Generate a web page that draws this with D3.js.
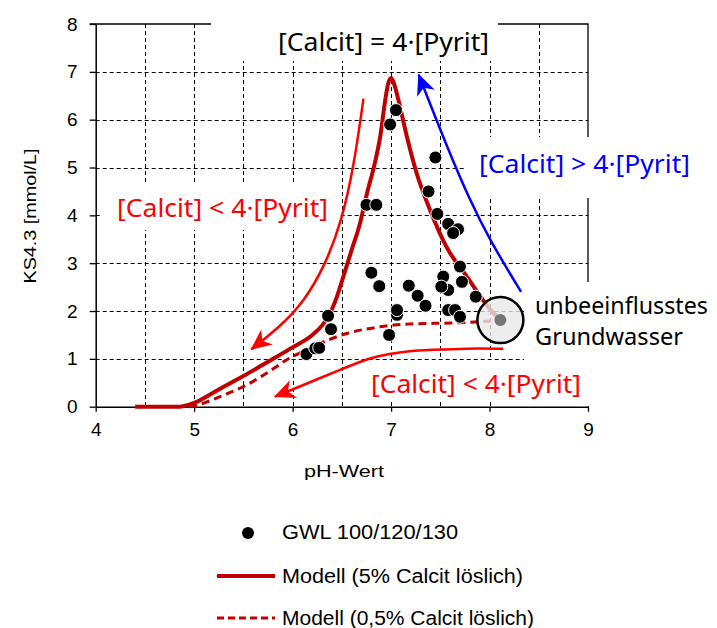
<!DOCTYPE html>
<html>
<head>
<meta charset="utf-8">
<script src="https://cdn.jsdelivr.net/npm/d3@7"></script>
<style>
body { margin: 0; background: #fff; }
svg { display: block; }
</style>
</head>
<body>
<svg id="chart" width="717" height="628"></svg>
<script>
// measured points, GWL 100/120/130
var gwlPH = [7.05, 6.99, 7.45, 7.38, 7.47, 7.58, 7.68, 7.63, 7.70, 6.75, 6.85, 6.80, 6.88,
             6.36, 6.39, 6.14, 6.23, 6.27, 6.98, 7.06, 7.06, 7.18, 7.27, 7.35,
             7.53, 7.72, 7.58, 7.51, 7.86, 7.58, 7.65, 7.70]
var gwlKS = [6.20, 5.90, 5.21, 4.50, 4.03, 3.82, 3.71, 3.63, 2.93, 4.22, 4.22, 2.80, 2.52,
             1.90, 1.62, 1.10, 1.22, 1.23, 1.50, 1.92, 2.02, 2.53, 2.32, 2.11,
             2.72, 2.61, 2.44, 2.51, 2.30, 2.02, 2.02, 1.88]

// Modell (5% Calcit löslich)
var model5PH = [4.4, 4.85, 5.0, 5.25, 5.5, 5.75, 6.0, 6.2, 6.3, 6.38, 6.45, 6.52, 6.6, 6.68, 6.76,
                6.83, 6.89, 6.94, 6.97, 7.0, 7.03, 7.07, 7.16, 7.26, 7.41, 7.56, 7.77, 8.0, 8.11]
var model5KS = [0, 0, 0.08, 0.36, 0.64, 0.94, 1.24, 1.5, 1.7, 1.95, 2.3, 2.75, 3.28, 3.8, 4.5,
                5.05, 5.65, 6.4, 6.75, 6.87, 6.75, 6.45, 5.65, 4.88, 4.04, 3.35, 2.72, 2.05, 1.81]

// Modell (0,5% Calcit löslich)
var model05PH = [4.95, 5.03, 5.13, 5.25, 5.5, 5.75, 5.94, 6.14, 6.38, 6.55, 6.89, 7.19, 7.6, 7.93, 8.11]
var model05KS = [0, 0.03, 0.1, 0.2, 0.42, 0.72, 0.98, 1.19, 1.41, 1.53, 1.67, 1.73, 1.75, 1.78, 1.81]

// annotation arrows (pH, KS)
var arrowUpPH = [6.72, 6.62, 6.5, 6.34, 6.12, 5.86, 5.58]
var arrowUpKS = [6.44, 5.0, 3.9, 3.0, 2.2, 1.65, 1.20]
var arrowLowPH = [8.14, 7.77, 7.43, 7.09, 6.85, 6.68, 6.48, 6.07, 5.82]
var arrowLowKS = [1.21, 1.22, 1.19, 1.15, 1.05, 0.94, 0.77, 0.42, 0.21]
var arrowBluePH = [8.32, 8.0, 7.80, 7.58, 7.28]
var arrowBlueKS = [2.40, 3.49, 4.32, 5.37, 6.94]

var groundwater = [8.11, 1.81]

var xTicks = [4, 5, 6, 7, 8, 9]
var yTicks = [0, 1, 2, 3, 4, 5, 6, 7, 8]
var xGrid = [4.5, 5, 5.5, 6, 6.5, 7, 7.5, 8, 8.5]
var yGrid = [1, 2, 3, 4, 5, 6, 7]

var legendLabels = ["GWL 100/120/130", "Modell (5% Calcit löslich)", "Modell (0,5% Calcit löslich)"]

var svg = d3.select("#chart")
var arial = "'Liberation Sans', Arial, sans-serif"
var tahoma = "'Noto Sans', 'DejaVu Sans', sans-serif"

var x = d3.scaleLinear().domain([4, 9]).range([95.7, 588])
var y = d3.scaleLinear().domain([0, 8]).range([406.7, 24])

function zip(a, b) { return a.map(function (d, i) { return [d, b[i]] }) }

var modelLine = d3.line()
    .x(function (d) { return x(d[0]) })
    .y(function (d) { return y(d[1]) })
    .curve(d3.curveMonotoneX)
var arrowLine = d3.line()
    .x(function (d) { return x(d[0]) })
    .y(function (d) { return y(d[1]) })
    .curve(d3.curveBasis)

// markers for arrow heads
var defs = svg.append("defs")
function marker(id, color) {
    defs.append("marker")
        .attr("id", id)
        .attr("viewBox", "-22 -11 24 22")
        .attr("markerWidth", 24).attr("markerHeight", 22)
        .attr("refX", 0).attr("refY", 0)
        .attr("markerUnits", "userSpaceOnUse")
        .attr("orient", "auto")
        .append("path")
        .attr("d", "M1,0 L-20,-9.5 L-14,0 L-20,9.5 Z")
        .attr("fill", color)
}
marker("headRed", "#ff0000")
marker("headBlue", "#0000ff")

// grid
var grid = svg.append("g").attr("stroke", "#000").attr("stroke-width", 1).attr("stroke-dasharray", "4,3")
grid.selectAll("line.v").data(xGrid).enter().append("line")
    .attr("x1", function (d) { return Math.round(x(d)) + 0.5 }).attr("x2", function (d) { return Math.round(x(d)) + 0.5 })
    .attr("y1", y(8)).attr("y2", y(0))
grid.selectAll("line.h").data(yGrid).enter().append("line")
    .attr("y1", function (d) { return Math.round(y(d)) + 0.5 }).attr("y2", function (d) { return Math.round(y(d)) + 0.5 })
    .attr("x1", x(4)).attr("x2", x(9))

// frame top / right
svg.append("path")
    .attr("d", "M" + (x(4) - 6) + "," + y(8) + "H" + x(9) + "V" + y(0))
    .attr("fill", "none").attr("stroke", "#000").attr("stroke-width", 1.3)

// white label boxes
var boxes = [[211, 0, 287, 61], [465, 137, 252, 61], [100, 183, 238, 47], [362, 360, 230, 41], [524, 282, 193, 124]]
svg.selectAll("rect.box").data(boxes).enter().append("rect")
    .attr("x", function (d) { return d[0] }).attr("y", function (d) { return d[1] })
    .attr("width", function (d) { return d[2] }).attr("height", function (d) { return d[3] })
    .attr("fill", "#fff")

// axes
svg.append("g")
    .attr("transform", "translate(" + x(4) + ",0)")
    .call(d3.axisLeft(y).tickValues(yTicks).tickSize(6).tickSizeOuter(0).tickPadding(12).tickFormat(d3.format("d")))
svg.append("g")
    .attr("transform", "translate(0," + y(0) + ")")
    .call(d3.axisBottom(x).tickValues(xTicks).tickSize(5).tickSizeOuter(0).tickPadding(11).tickFormat(d3.format("d")))
svg.selectAll(".domain").attr("stroke", "#000").attr("stroke-width", 1.5)
svg.selectAll(".tick line").attr("stroke", "#000").attr("stroke-width", 1.3)
svg.selectAll(".tick text").attr("font-family", arial).attr("font-size", 19).attr("fill", "#000")

svg.append("text")
    .attr("transform", "translate(36,216) rotate(-90)")
    .attr("text-anchor", "middle")
    .attr("font-family", arial).attr("font-size", 16)
    .attr("textLength", 135).attr("lengthAdjust", "spacingAndGlyphs")
    .text("KS4.3 [mmol/L]")
svg.append("text")
    .attr("x", 344).attr("y", 477)
    .attr("text-anchor", "middle")
    .attr("font-family", arial).attr("font-size", 17)
    .attr("textLength", 80).attr("lengthAdjust", "spacingAndGlyphs")
    .text("pH-Wert")

// annotation texts
var notes = [
    { t: "[Calcit] = 4·[Pyrit]", x: 278, y: 51, w: 211, c: "#000", s: 25 },
    { t: "[Calcit] > 4·[Pyrit]", x: 479, y: 173, w: 211, c: "#0000ff", s: 25 },
    { t: "[Calcit] < 4·[Pyrit]", x: 117, y: 217, w: 211, c: "#ff0000", s: 25 },
    { t: "[Calcit] < 4·[Pyrit]", x: 371, y: 393, w: 210, c: "#ff0000", s: 25 },
    { t: "unbeeinflusstes", x: 535, y: 314, w: 173, c: "#000", s: 23.5 },
    { t: "Grundwasser", x: 535, y: 345, w: 148, c: "#000", s: 23.5 }
]
svg.selectAll("text.note").data(notes).enter().append("text")
    .attr("class", "note")
    .attr("x", function (d) { return d.x }).attr("y", function (d) { return d.y })
    .attr("fill", function (d) { return d.c })
    .attr("font-family", tahoma).attr("font-size", function (d) { return d.s })
    .attr("textLength", function (d) { return d.w }).attr("lengthAdjust", "spacingAndGlyphs")
    .text(function (d) { return d.t })

// model curves
svg.append("path").datum(zip(model05PH, model05KS))
    .attr("d", modelLine).attr("fill", "none")
    .attr("stroke", "#c00000").attr("stroke-width", 3).attr("stroke-dasharray", "8,5")
svg.append("path").datum(zip(model5PH, model5KS))
    .attr("d", modelLine).attr("fill", "none")
    .attr("stroke", "#c00000").attr("stroke-width", 4)

// arrows
svg.append("path").datum(zip(arrowUpPH, arrowUpKS))
    .attr("d", arrowLine).attr("fill", "none").attr("stroke", "#ff0000").attr("stroke-width", 2.5)
    .attr("marker-end", "url(#headRed)")
svg.append("path").datum(zip(arrowLowPH, arrowLowKS))
    .attr("d", arrowLine).attr("fill", "none").attr("stroke", "#ff0000").attr("stroke-width", 2.5)
    .attr("marker-end", "url(#headRed)")
svg.append("path").datum(zip(arrowBluePH, arrowBlueKS))
    .attr("d", arrowLine).attr("fill", "none").attr("stroke", "#0000ff").attr("stroke-width", 2.5)
    .attr("marker-end", "url(#headBlue)")

// points
svg.selectAll("circle.dot").data(zip(gwlPH, gwlKS)).enter().append("circle")
    .attr("class", "dot")
    .attr("cx", function (d) { return x(d[0]) }).attr("cy", function (d) { return y(d[1]) })
    .attr("r", 6.5)
    .attr("fill", "#000").attr("stroke", "#fff").attr("stroke-width", 1)

// unaffected groundwater marker
svg.append("circle")
    .attr("cx", x(groundwater[0])).attr("cy", y(groundwater[1])).attr("r", 23)
    .attr("fill", "#e8e8e8").attr("fill-opacity", 0.8)
    .attr("stroke", "#000").attr("stroke-width", 2.5)
svg.append("circle")
    .attr("cx", x(groundwater[0])).attr("cy", y(groundwater[1])).attr("r", 6)
    .attr("fill", "#767676")

// legend
var lg = svg.append("g").attr("font-family", arial).attr("font-size", 20)
lg.append("circle").attr("cx", 248).attr("cy", 533).attr("r", 6).attr("fill", "#000")
lg.append("line").attr("x1", 217).attr("x2", 275).attr("y1", 576).attr("y2", 576)
    .attr("stroke", "#c00000").attr("stroke-width", 4)
lg.append("line").attr("x1", 217).attr("x2", 275).attr("y1", 618).attr("y2", 618)
    .attr("stroke", "#c00000").attr("stroke-width", 3).attr("stroke-dasharray", "7,4")
var lgY = [539, 583, 625]
var lgW = [176, 241, 252]
lg.selectAll("text").data(legendLabels).enter().append("text")
    .attr("x", 282).attr("y", function (d, i) { return lgY[i] })
    .attr("textLength", function (d, i) { return lgW[i] }).attr("lengthAdjust", "spacingAndGlyphs")
    .text(function (d) { return d })
</script>
</body>
</html>
